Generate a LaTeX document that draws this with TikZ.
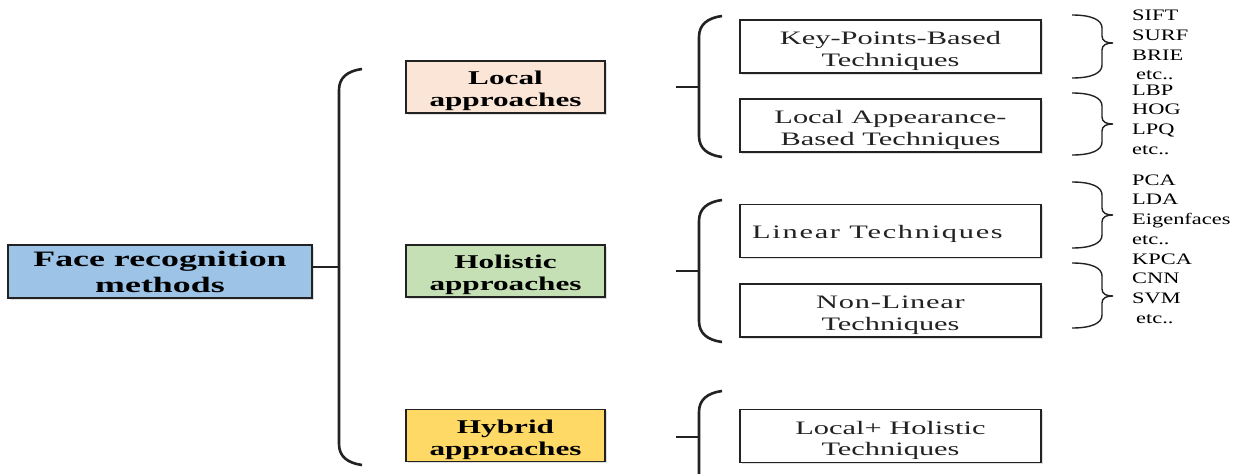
\documentclass[tikz,border=0pt]{standalone}
\usepackage{fontspec}
\setmainfont{Liberation Serif}
\newfontfamily\facefont[FakeStretch=1.63]{Liberation Serif}
\newfontfamily\headfont[FakeStretch=1.6]{Liberation Serif}
\newfontfamily\techfont[FakeStretch=1.6]{Liberation Serif}
\newfontfamily\itemfont[FakeStretch=1.4]{Liberation Serif}
\usetikzlibrary{shadows}

\definecolor{faceblue}{HTML}{9DC3E6}
\definecolor{localpeach}{HTML}{FBE5D6}
\definecolor{holigreen}{HTML}{C5E0B4}
\definecolor{hybridgold}{HTML}{FFD966}
\definecolor{inkgray}{HTML}{222222}

% invisible strut on a first line, pushing the text block slightly down
\newcommand\lowr[1]{\rule{0pt}{#1}}

\tikzset{
  boxbase/.style={rectangle, draw=inkgray, inner sep=0pt, align=center,
    drop shadow={shadow xshift=1.5pt, shadow yshift=-1.5pt, opacity=0.25}},
  facebox/.style={boxbase, line width=1.8pt, fill=faceblue,
    minimum width=304pt, minimum height=53pt,
    font=\facefont\bfseries\fontsize{22}{26}\selectfont},
  headbox/.style={boxbase, line width=1.8pt,
    minimum width=199pt, minimum height=52pt,
    font=\headfont\bfseries\fontsize{19.5}{22}\selectfont},
  techbox/.style={boxbase, line width=1.4pt, fill=white,
    minimum width=301pt, minimum height=53pt, text=inkgray,
    font=\techfont\fontsize{19}{21.7}\selectfont},
  itemlist/.style={anchor=west, align=left, inner sep=0pt,
    font=\itemfont\fontsize{16}{19.7}\selectfont},
  bracket/.style={line width=2.6pt, inkgray},
  stub/.style={line width=2.6pt, inkgray},
  curly/.style={line width=1.4pt, inkgray}
}

% closing curly brace: #1 top y, #2 tip y, #3 bottom y
\newcommand\closebrace[3]{%
  \draw[curly] (1072,#1) .. controls (1092,#1) and (1102,{#1+5}) .. (1102,{#1+13})
    -- (1102,{#2-7}) .. controls (1102,{#2-2}) and (1106,#2) .. (1113,#2)
    .. controls (1106,#2) and (1102,{#2+2}) .. (1102,{#2+7})
    -- (1102,{#3-13}) .. controls (1102,{#3-5}) and (1092,#3) .. (1072,#3);}

% opening bracket with rounded ends: #1 x of stem, #2 top y, #3 bottom y
\newcommand\openbracket[3]{%
  \draw[bracket] ({#1+23},#2) .. controls ({#1+8},{#2+2}) and (#1,{#2+9}) .. (#1,{#2+21})
    -- (#1,{#3-21}) .. controls (#1,{#3-9}) and ({#1+8},{#3-2}) .. ({#1+23},#3);}

\begin{document}
\begin{tikzpicture}[x=1pt,y=-1pt]
  \clip (0,0) rectangle (1243,474);
  \fill[white] (0,0) rectangle (1243,474);

  % root
  \node[facebox] (face) at (160,271.5) {Face recognition\\methods};

  % first level
  \node[headbox, fill=localpeach] (local) at (505.5,87) {\lowr{22pt}Local\\approaches};
  \node[headbox, fill=holigreen] (holistic) at (505.5,271) {\lowr{22pt}Holistic\\approaches};
  \node[headbox, fill=hybridgold] (hybrid) at (505.5,435.5) {\lowr{22pt}Hybrid\\approaches};

  % second level
  \node[techbox] (keypts) at (890.5,46.5) {\lowr{22pt}Key-Points-Based\\Techniques};
  \node[techbox] (locapp) at (890.5,125.5) {\lowr{22pt}Local Appearance-\\Based Techniques};
  \node[techbox] (linear) at (890.5,231)
    {\lowr{20pt}\addfontfeature{LetterSpace=9}Linear Techniques\hspace{26pt}};
  \node[techbox] (nonlin) at (890.5,310.5)
    {\lowr{22pt}{\addfontfeature{LetterSpace=4}Non-Linear}\hspace{14pt}\\Techniques};
  \node[techbox] (localholi) at (890.5,436) {\lowr{22pt}Local+ Holistic\\Techniques};

  % brackets and their joints
  \openbracket{339}{69}{465}
  \coordinate (j0) at (339,267);
  \draw[stub] (face.east |- j0) -- (j0);

  \openbracket{699}{16}{157}
  \coordinate (j1) at (699,87);
  \coordinate (s1) at (676,87);
  \draw[stub] (s1) -- (j1);

  \openbracket{699}{200}{342}
  \coordinate (j2) at (699,271);
  \coordinate (s2) at (676,271);
  \draw[stub] (s2) -- (j2);

  \openbracket{699}{391}{533}
  \coordinate (j3) at (699,437);
  \coordinate (s3) at (676,437);
  \draw[stub] (s3) -- (j3);

  % example methods
  \closebrace{15}{43}{78}
  \node[itemlist] (ex1) at (1132,45) {SIFT\\SURF\\BRIE\\\hspace{4pt}etc..};
  \closebrace{93}{124}{155}
  \node[itemlist] (ex2) at (1132,119.5) {LBP\\HOG\\LPQ\\etc..};
  \closebrace{182}{215}{248}
  \node[itemlist] (ex3) at (1132,209.5) {PCA\\LDA\\Eigenfaces\\etc..};
  \closebrace{263}{296}{328}
  \node[itemlist] (ex4) at (1132,288.5) {KPCA\\CNN\\SVM\\\hspace{4pt}etc..};
\end{tikzpicture}
\end{document}
